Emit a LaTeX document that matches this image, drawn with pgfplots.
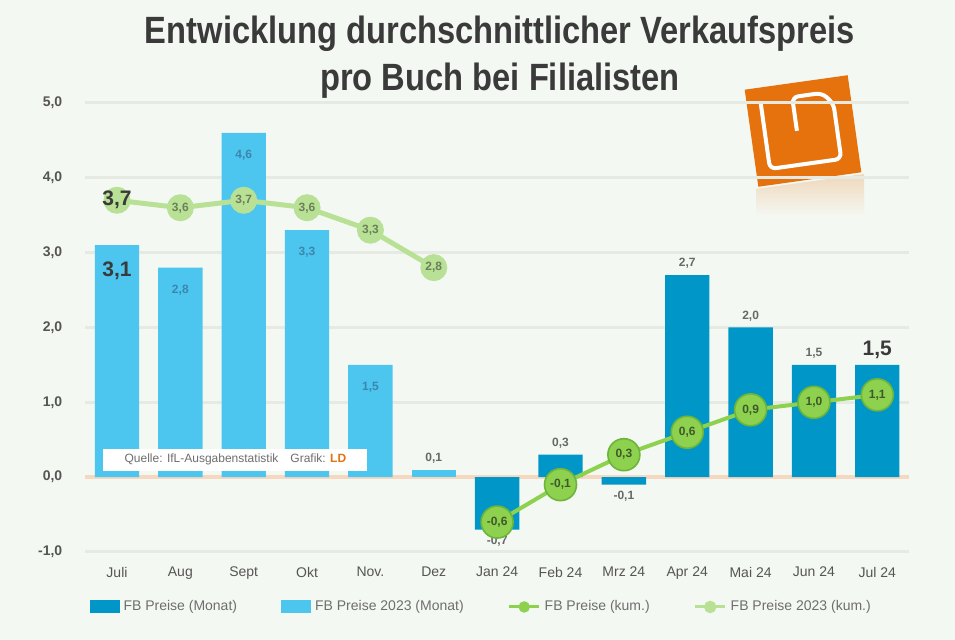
\documentclass[border=0pt]{standalone}
\usepackage{fontspec}
\setmainfont{Liberation Sans}
\usepackage{pgfplots}
\pgfplotsset{compat=1.18}
\definecolor{bg}{HTML}{F4F8F2}
\definecolor{gridc}{HTML}{E7EAE3}
\definecolor{dblue}{HTML}{0096C8}
\definecolor{lblue}{HTML}{4CC6EE}
\definecolor{gr}{HTML}{8DD14E}
\definecolor{grdark}{HTML}{6DB43A}
\definecolor{lgr}{HTML}{B9E196}
\definecolor{zeroc}{HTML}{F6D8C0}
\definecolor{logoor}{HTML}{E5720C}
\definecolor{titlegray}{HTML}{3A3A3A}
\definecolor{tickgray}{HTML}{555555}
\definecolor{leggray}{HTML}{6E6E6E}
\definecolor{inlbl}{HTML}{3C86AE}
\definecolor{outlbl}{HTML}{686868}
\definecolor{mklbl}{HTML}{3E5A2A}
\definecolor{mklbl2}{HTML}{6A7F5A}
\newcommand{\lblfont}{\fontsize{6}{7}\selectfont\bfseries}
\newcommand{\bigfont}{\fontsize{10.5}{12}\selectfont\bfseries\color{titlegray}}
\newcommand{\fmt}{\pgfmathprintnumber[fixed,fixed zerofill,precision=1,use comma]{\pgfplotspointmeta}}
\begin{document}
\begin{tikzpicture}
\fill[bg] (0,0) rectangle (477.5pt,320pt);
% title
\node[align=center, text=titlegray, font=\fontsize{19}{23.5}\selectfont\bfseries] at (250pt,291.5pt)
 {\scalebox{0.86}[1]{Entwicklung durchschnittlicher Verkaufspreis}\\\scalebox{0.86}[1]{pro Buch bei Filialisten}};
% logo
\shade[top color=logoor!30!bg, bottom color=bg, opacity=0.8] (378pt,225.5pt) -- (432pt,233pt) -- (432pt,212pt) -- (378pt,212pt) -- cycle;
\begin{scope}[shift={(401.5pt,254.5pt)}, rotate=8]
 \fill[logoor] (-26pt,-24.5pt) rectangle (26pt,24.5pt);
 \draw[white, line width=2pt, rounded corners=3pt] (-19pt,17.5pt) -- (-19pt,-16.5pt) -- (17pt,-16.5pt) -- (17pt,11.5pt) -- (12pt,17.5pt) -- (-3pt,17.5pt) -- (-3pt,0.5pt);
\end{scope}
\begin{axis}[
 at={(42.65pt,44pt)}, anchor=south west,
 scale only axis, width=411.85pt, height=224.5pt,
 xmin=-0.5, xmax=12.5, ymin=-1, ymax=5,
 axis line style={draw=none}, tick style={draw=none},
 ymajorgrids, grid style={gridc, line width=1.5pt},
 ytick={-1,0,1,2,3,4,5},
 extra y ticks={0}, extra y tick labels={},
 extra y tick style={grid style={zeroc, line width=2pt}},
 /pgf/number format/assume math mode=true,
 yticklabel style={/pgf/number format/fixed, /pgf/number format/fixed zerofill,
   /pgf/number format/precision=1, /pgf/number format/use comma,
   font=\fontsize{7}{8}\selectfont\bfseries, text=tickgray, xshift=-8pt},
 xtick={0,...,12},
 xticklabels={Juli,Aug,Sept,Okt,Nov.,Dez,Jan 24,Feb 24,Mrz 24,Apr 24,Mai 24,Jun 24,Jul 24},
 xticklabel style={font=\fontsize{7}{8}\selectfont, text=tickgray, yshift=-4pt},
 legend style={at={(0.5,0)}, yshift=-20pt, xshift=-7.5pt, anchor=north, draw=none, fill=none,
   legend columns=4, font=\fontsize{7}{8}\selectfont, text=leggray,
   /tikz/every even column/.append style={column sep=20pt},
   /tikz/every odd column/.append style={column sep=0pt}},
 legend cell align=left,
 clip=false,
]
% 2024 monthly bars
\addplot[ybar, bar width=0.7, bar shift=0pt, fill=dblue, draw=none,
  legend image code/.code={\fill[dblue] (0pt,-3pt) rectangle (15pt,3.5pt);},
  nodes near coords={\ifnum\coordindex=6 \bigfont\fi\fmt},
  every node near coord/.append style={font=\lblfont, text=outlbl, inner sep=3pt}]
 coordinates {(6,-0.7) (7,0.3) (8,-0.1) (9,2.7) (10,2.0) (11,1.5) (12,1.5)};
\addlegendentry{FB Preise (Monat)}
% 2023 monthly bars
\addplot[ybar, bar width=0.7, bar shift=0pt, fill=lblue, draw=none,
  legend image code/.code={\fill[lblue] (0pt,-3pt) rectangle (15pt,3.5pt);},
  nodes near coords={\ifnum\coordindex=0 \bigfont\fi\fmt},
  every node near coord/.append style={font=\lblfont, text=inlbl, anchor=north, yshift=-5pt}]
 coordinates {(0,3.1) (1,2.8) (2,4.6) (3,3.3) (4,1.5)};
\addlegendentry{FB Preise 2023 (Monat)}
\addplot[ybar, bar width=0.7, bar shift=0pt, fill=lblue, draw=none, forget plot,
  nodes near coords={\fmt},
  every node near coord/.append style={font=\lblfont, text=outlbl, inner sep=3pt}]
 coordinates {(5,0.1)};
% 2024 cumulative
\addplot[gr, line width=2pt, mark=*, mark size=8pt,
  mark options={fill=gr, draw=grdark, line width=0.8pt},
  legend image code/.code={\draw[gr, line width=1.5pt] (0pt,0pt) -- (15pt,0pt); \fill[gr] (7.5pt,0pt) circle (1.8pt);},
  nodes near coords={\fmt},
  every node near coord/.style={anchor=center, font=\lblfont, text=mklbl}]
 coordinates {(6,-0.6) (7,-0.1) (8,0.3) (9,0.6) (10,0.9) (11,1.0) (12,1.1)};
\addlegendentry{FB Preise (kum.)}
% 2023 cumulative
\addplot[lgr, line width=2.5pt, mark=*, mark size=6.5pt,
  mark options={fill=lgr, draw=lgr, line width=0.5pt},
  legend image code/.code={\draw[lgr, line width=1.5pt] (0pt,0pt) -- (15pt,0pt); \fill[lgr] (7.5pt,0pt) circle (1.8pt);},
  nodes near coords={\ifnum\coordindex=0 \bigfont\fi\fmt},
  every node near coord/.style={anchor=center, font=\lblfont, text=mklbl2}]
 coordinates {(0,3.7) (1,3.6) (2,3.7) (3,3.6) (4,3.3) (5,2.8)};
\addlegendentry{FB Preise 2023 (kum.)}
\end{axis}
% source box
\node[fill=white, anchor=south west, minimum width=132pt, minimum height=11pt, inner sep=0pt,
  font=\fontsize{6}{7}\selectfont, text=leggray] at (51.5pt,84.5pt)
  {Quelle: IfL-Ausgabenstatistik\quad Grafik: \textcolor{logoor}{\bfseries LD}};
\pgfresetboundingbox
\useasboundingbox (0,0) rectangle (477.5pt,320pt);
\end{tikzpicture}
\end{document}
